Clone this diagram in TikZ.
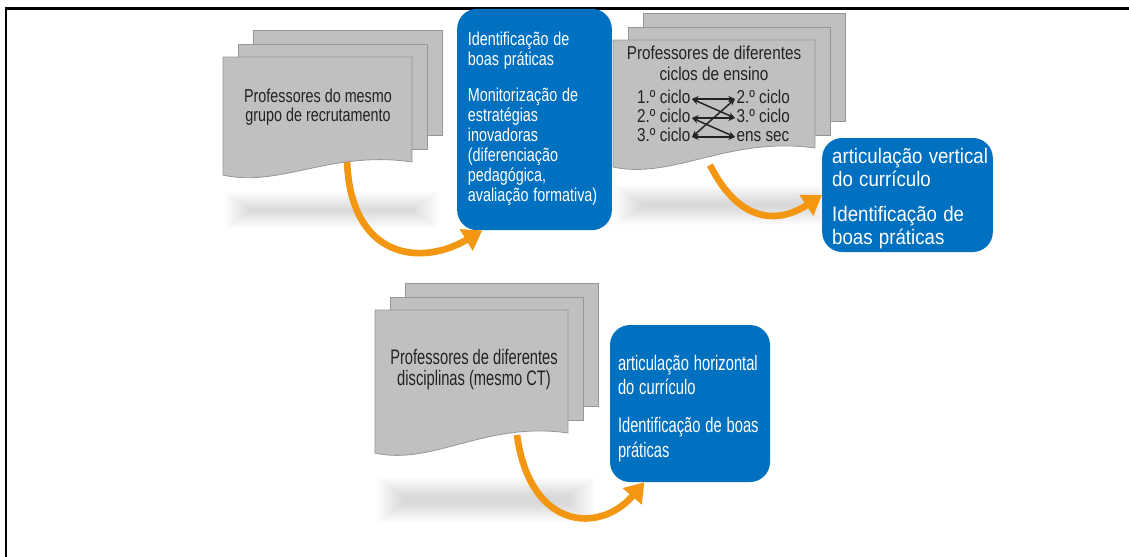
\documentclass[tikz,border=0pt]{standalone}
\usepackage{fontspec}
\usepackage{graphicx}
\setmainfont{Liberation Sans}
\usetikzlibrary{arrows.meta}
\definecolor{boxblue}{RGB}{0,112,192}
\definecolor{pagegray}{RGB}{192,192,192}
\definecolor{pageedge}{RGB}{150,150,150}
\definecolor{arroworange}{RGB}{243,150,18}
\definecolor{inkgray}{RGB}{35,35,35}
% condensed lines: factor, column type, lines
\newcommand{\narrowlines}[3]{\scalebox{#1}[1]{\begin{tabular}{@{}#2@{}}#3\end{tabular}}}
% move content down inside its node
\newcommand{\lowered}[2]{\raisebox{-#1}[\height][\depth]{#2}}

\begin{document}
\begin{tikzpicture}[x=0.75pt,y=-0.75pt,
	page/.style={fill=pagegray, draw=pageedge, line width=0.6pt},
	bluebox/.style={fill=boxblue, text=white, rounded corners=15pt, align=left, inner ysep=0pt},
	doctext/.style={text=inkgray, inner sep=0pt},
	cycle/.style={text=inkgray, font={\fontsize{14}{15}\selectfont}, inner sep=1pt},
	link/.style={{Stealth[length=5pt,width=4.5pt]}-{Stealth[length=5pt,width=4.5pt]}, line width=1.1pt, inkgray},
	flow/.style={-{Triangle[length=14pt,width=18pt]}, line width=5pt, arroworange}]

	\useasboundingbox (0,0) rectangle (1129,557);

	% frame
	\draw[line width=2pt] (6,557) -- (6,8.5) -- (1129,8.5);

	% soft shadows under the page stacks
	\foreach \sx/\sy/\sw/\sh in {233/197/197/26, 623/190/197/30, 385/483/202/34}
	\foreach \i in {0,...,9}
		\fill[black, opacity=0.016] ({\sx-8+3*\i},{\sy-5+2*\i}) rectangle ({\sx+\sw+8-3*\i},{\sy+\sh+5-2*\i});

	% blue boxes
	\node[bluebox, font={\fontsize{14}{15}\selectfont}, text width=100pt, inner xsep=8pt, minimum height=166pt] (box1) at (534.5,119.5)
		{\narrowlines{0.77}{l}{Identificação de\\boas práticas\\[12pt]Monitorização de\\estratégias\\inovadoras\\(diferenciação\\pedagógica,\\avaliação formativa)}};
	\node[bluebox, font={\fontsize{15.75}{17.25}\selectfont}, text width=113pt, inner xsep=7.5pt, minimum height=85.5pt] (box2) at (907.5,195)
		{\lowered{3pt}{\narrowlines{0.89}{l}{articulação vertical\\do currículo\\[9pt]Identificação de\\boas práticas}}};
	\node[bluebox, font={\fontsize{15.75}{18.5}\selectfont}, text width=108pt, inner xsep=6pt, minimum height=117.75pt] (box3) at (690,403.5)
		{\lowered{4pt}{\narrowlines{0.70}{l}{articulação horizontal\\do currículo\\[10pt]Identificação de boas\\práticas}}};

	% orange arrows, starting under the pages
	\coordinate (out1) at (347,160);
	\coordinate (out2) at (710,165);
	\coordinate (out3) at (517,435);
	\draw[flow] (out1) .. controls +(3,98) and +(-62,37) .. ([xshift=19pt]box1.south west);
	\draw[flow] (out2) .. controls +(30,60) and +(-42,28) .. (box2.west);
	\draw[flow] (out3) .. controls +(13,95) and +(-45,52) .. ([xshift=26pt]box3.south west);

	% page stacks
	\foreach \l/\t/\w/\h/\lb in {223/57/189/105/118, 613/40/202/108/127, 375/310/193/123/143}{
		% back pages
		\draw[page] ({\l+30},{\t-27}) rectangle ({\l+\w+30},{\t+\h-27});
		\draw[page] ({\l+15},{\t-13}) rectangle ({\l+\w+15},{\t+\h-13});
		% front page, wavy bottom
		\draw[page] (\l,\t) -- ({\l+\w},\t) -- ({\l+\w},{\t+\h})
			.. controls ({\l+0.57*\w},{\t+\h-12}) and ({\l+0.3*\w},{\t+\lb+13}) .. (\l,{\t+\lb}) -- cycle;
	}

	% page texts
	\node[doctext, font={\fontsize{14}{13.5}\selectfont}] (prof1) at (318,108)
		{\narrowlines{0.77}{c}{Professores do mesmo\\grupo de recrutamento}};
	\node[doctext, font={\fontsize{14}{15.75}\selectfont}] (prof2) at (714,66)
		{\narrowlines{0.82}{c}{Professores de diferentes\\ciclos de ensino}};
	\node[doctext, font={\fontsize{15.75}{15}\selectfont}] (prof3) at (474,370)
		{\narrowlines{0.70}{c}{Professores de diferentes\\disciplinas (mesmo CT)}};

	% cycles
	\node[cycle, anchor=east] (l1) at (692,99) {\narrowlines{0.82}{l}{1.º ciclo}};
	\node[cycle, anchor=east] (l2) at (692,118) {\narrowlines{0.82}{l}{2.º ciclo}};
	\node[cycle, anchor=east] (l3) at (692,137) {\narrowlines{0.82}{l}{3.º ciclo}};
	\node[cycle, anchor=west] (r1) at (735,99) {\narrowlines{0.82}{l}{2.º ciclo}};
	\node[cycle, anchor=west] (r2) at (735,118) {\narrowlines{0.82}{l}{3.º ciclo}};
	\node[cycle, anchor=west] (r3) at (735,137) {\narrowlines{0.82}{l}{ens sec}};
	\foreach \a/\b in {l1/r1, l2/r2, l3/r3, l1/r2, l2/r3, l3/r1}
		\draw[link] (\a.east) -- (\b.west);
\end{tikzpicture}
\end{document}
